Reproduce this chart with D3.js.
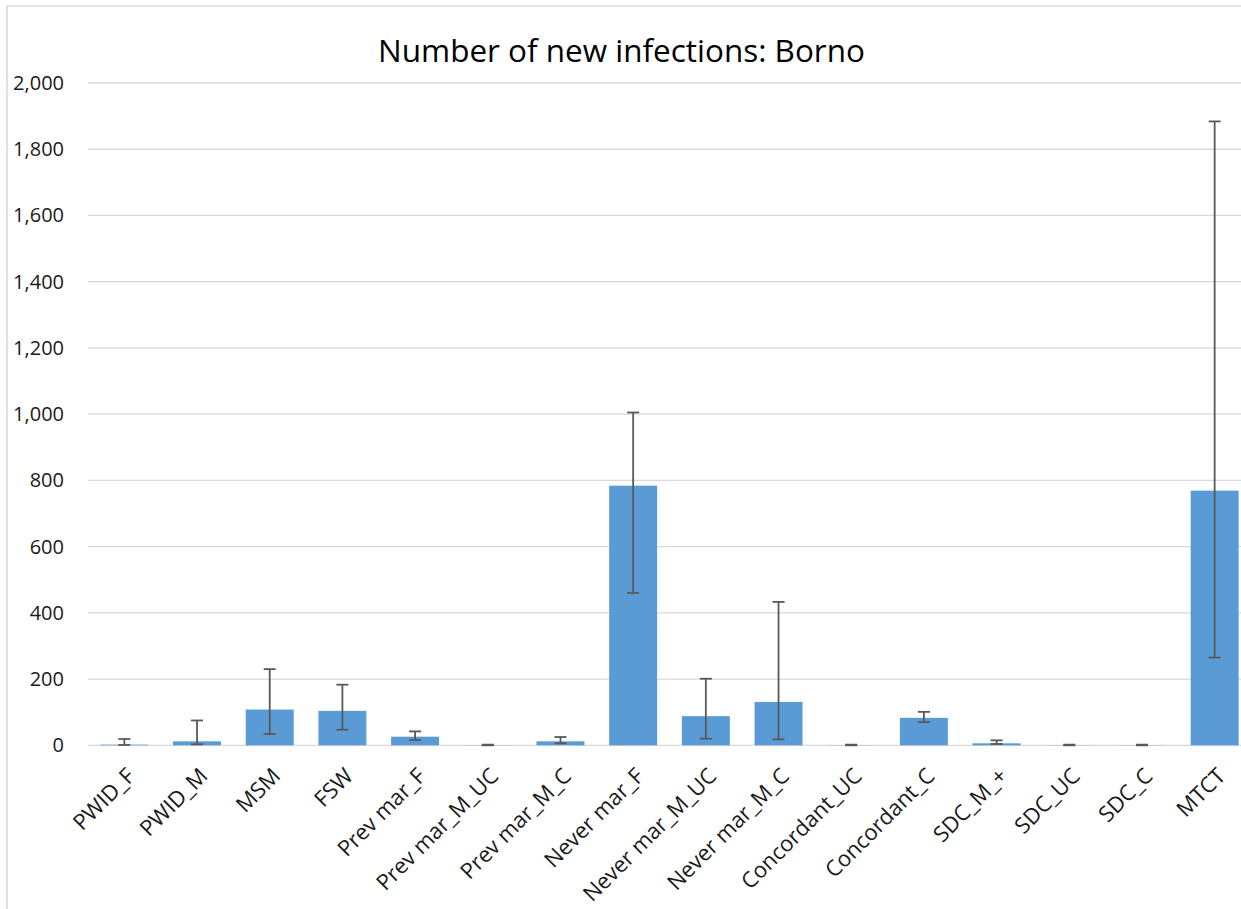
<!DOCTYPE html>
<html>
<head>
<meta charset="utf-8">
<script src="https://cdn.jsdelivr.net/npm/d3@7"></script>
<style>
  html, body { margin: 0; padding: 0; background: #fff; overflow: hidden; }
  svg { display: block; font-family: "Open Sans", "Noto Sans", sans-serif; }
</style>
</head>
<body>
<svg id="chart" width="1241" height="909"></svg>
<script>
const title = "Number of new infections: Borno";
const categories = ["PWID_F", "PWID_M", "MSM", "FSW", "Prev mar_F", "Prev mar_M_UC", "Prev mar_M_C",
  "Never mar_F", "Never mar_M_UC", "Never mar_M_C", "Concordant_UC", "Concordant_C",
  "SDC_M_+", "SDC_UC", "SDC_C", "MTCT"];
const values  = [2, 12, 108, 104, 26, 0.5, 12, 784, 88, 131, 0.5, 83, 6, 0.5, 0.5, 769];
const errHigh = [19, 75, 230, 183, 42, 2, 25, 1005, 201, 433, 2, 101, 15, 2, 2, 1884];
const errLow  = [1, 3, 34, 47, 16, 0, 6, 460, 20, 18, 0, 70, 4, 0, 0, 265];
const yTicks  = [0, 200, 400, 600, 800, 1000, 1200, 1400, 1600, 1800, 2000];

const svg = d3.select("#chart");
const W = 1241, H = 909;
const plot = { left: 88, right: 1251, top: 83, bottom: 745.3 };

// outer chart-area border (only left and top visible in crop)
svg.append("line").attr("x1", 7).attr("x2", 7).attr("y1", 6).attr("y2", H)
  .attr("stroke", "#d9d9d9").attr("stroke-width", 1.5);
svg.append("line").attr("x1", 7).attr("x2", W).attr("y1", 6).attr("y2", 6)
  .attr("stroke", "#d9d9d9").attr("stroke-width", 1.5);

const x = d3.scaleBand().domain(categories).range([plot.left, plot.right])
  .paddingInner(0.34).paddingOuter(0.17);
const y = d3.scaleLinear().domain([0, 2000]).range([plot.bottom, plot.top]);

// gridlines
svg.append("g").selectAll("line").data(yTicks).join("line")
  .attr("x1", plot.left).attr("x2", plot.right)
  .attr("y1", d => y(d)).attr("y2", d => y(d))
  .attr("stroke", "#d9d9d9").attr("stroke-width", 1.3);

// y axis labels
const yAxis = d3.axisLeft(y).tickValues(yTicks).tickFormat(d3.format(",")).tickSize(0).tickPadding(0);
const gy = svg.append("g").attr("transform", `translate(64,0)`).call(yAxis);
gy.select(".domain").remove();
gy.selectAll("text").attr("font-size", 20).attr("fill", "#1a1a1a")
  .attr("font-family", "'Open Sans', sans-serif");

// bars
svg.append("g").selectAll("rect").data(categories).join("rect")
  .attr("x", d => x(d))
  .attr("width", x.bandwidth())
  .attr("y", (d, i) => y(values[i]))
  .attr("height", (d, i) => y(0) - y(values[i]))
  .attr("fill", "#5b9bd5");

// error bars
const eb = svg.append("g").attr("stroke", "#595959").attr("stroke-width", 1.8);
const cap = 12;
categories.forEach((c, i) => {
  const cx = x(c) + x.bandwidth() / 2;
  eb.append("line").attr("x1", cx).attr("x2", cx).attr("y1", y(errLow[i])).attr("y2", y(errHigh[i]));
  eb.append("line").attr("x1", cx - cap / 2).attr("x2", cx + cap / 2).attr("y1", y(errHigh[i])).attr("y2", y(errHigh[i]));
  eb.append("line").attr("x1", cx - cap / 2).attr("x2", cx + cap / 2).attr("y1", y(errLow[i])).attr("y2", y(errLow[i]));
});

// x axis labels
const xAxis = d3.axisBottom(x).tickSize(0).tickPadding(0);
const gx = svg.append("g").attr("transform", `translate(0,${plot.bottom})`).call(xAxis);
gx.select(".domain").remove();
gx.selectAll("text")
  .attr("font-size", 22).attr("fill", "#1a1a1a")
  .attr("font-family", "'Open Sans', sans-serif")
  .attr("text-anchor", "end")
  .attr("dy", "0.71em")
  .attr("y", 0)
  .attr("transform", "translate(1,21) rotate(-45)");

// title
const t = svg.append("text").attr("x", 621.5).attr("y", 62)
  .attr("text-anchor", "middle").attr("font-size", 30).attr("fill", "#000")
  .text(title);
const tw = t.node().getComputedTextLength();
t.attr("font-size", 30 * 487 / tw);
</script>
</body>
</html>
